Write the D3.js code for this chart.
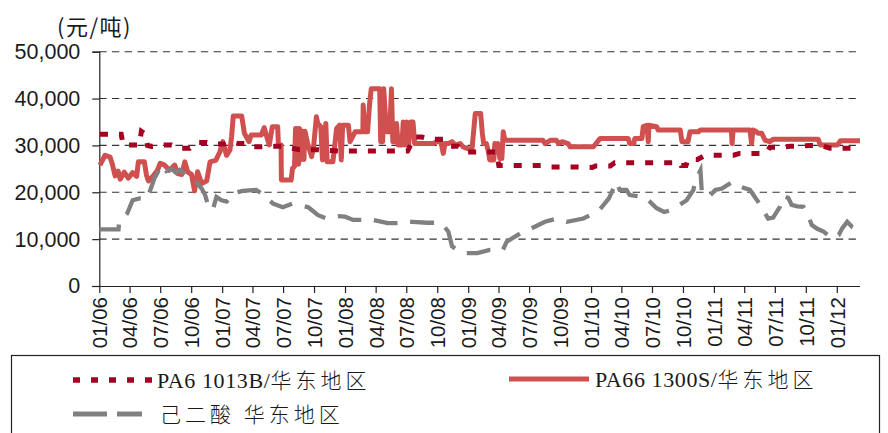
<!DOCTYPE html>
<html><head><meta charset="utf-8">
<script src="https://cdn.jsdelivr.net/npm/d3@7"></script>
<style>body{margin:0;background:#fff}svg{display:block}</style>
</head><body>
<svg id="c" width="888" height="433"></svg>
<script>
// ---------- data ----------
const tickLabels = ["01/06","04/06","07/06","10/06","01/07","04/07","07/07","10/07","01/08","04/08","07/08","10/08","01/09","04/09","07/09","10/09","01/10","04/10","07/10","10/10","01/11","04/11","07/11","10/11","01/12"];
const yTicks = [0,10000,20000,30000,40000,50000];
const unitLabel = "(元/吨)";
const seriesNames = ["PA6 1013B/华东地区","PA66 1300S/华东地区","己二酸 华东地区"];

const pa6Dates = ["2006-01-03","2006-03-07","2006-03-13","2006-04-30","2006-05-06","2006-05-18","2006-05-24","2006-06-05","2006-07-14","2006-08-04","2006-08-28","2006-09-27","2006-10-17","2006-11-17","2006-12-10","2007-01-09","2007-01-24","2007-02-17","2007-03-08","2007-03-22","2007-04-30","2007-06-06","2007-06-29","2007-08-19","2007-10-12","2007-10-26","2007-12-16","2008-01-01","2008-02-29","2008-05-04","2008-07-05","2008-07-26","2008-08-16","2008-09-10","2008-10-18","2008-11-09","2008-12-02","2008-12-23","2009-01-16","2009-03-26","2009-04-02","2009-04-28","2009-06-04","2009-08-11","2009-09-02","2009-11-15","2010-01-05","2010-01-14","2010-02-27","2010-03-12","2010-07-30","2010-09-23","2010-09-26","2010-10-10","2010-10-16","2010-11-13","2010-12-06","2011-02-28","2011-03-18","2011-06-05","2011-06-16","2011-07-07","2011-08-15","2011-09-06","2011-10-14","2011-11-13","2011-12-12","2012-01-26","2012-03-10"];
const pa6Values = [32400,32400,30100,30100,33000,32400,30000,29800,30100,30100,29400,29400,30600,30600,30300,30300,30800,30400,30400,29700,29700,29800,29800,29100,29100,29000,28800,28800,28800,28800,28800,31800,31800,31300,31300,29800,29800,28600,28600,28600,25700,25700,25700,25700,25400,25400,25300,25600,25600,26300,26300,26300,25700,25700,27000,27000,27900,27900,28300,28300,29600,29600,29800,29800,30000,30000,29400,29400,29400];

const pa66Dates = ["2006-01-03","2006-01-18","2006-02-02","2006-02-08","2006-02-17","2006-02-26","2006-03-04","2006-03-16","2006-03-28","2006-04-10","2006-04-22","2006-04-27","2006-05-15","2006-05-21","2006-05-27","2006-06-08","2006-06-23","2006-07-01","2006-07-14","2006-07-28","2006-08-13","2006-08-22","2006-09-03","2006-09-12","2006-09-21","2006-10-02","2006-10-11","2006-10-20","2006-11-01","2006-11-16","2006-11-26","2006-12-13","2006-12-25","2007-01-03","2007-01-14","2007-01-24","2007-01-29","2007-02-03","2007-02-28","2007-03-08","2007-03-22","2007-03-28","2007-04-27","2007-05-06","2007-05-15","2007-05-21","2007-05-30","2007-06-15","2007-06-17","2007-06-25","2007-06-26","2007-07-25","2007-07-29","2007-08-04","2007-08-07","2007-08-10","2007-08-13","2007-08-16","2007-08-19","2007-08-23","2007-08-28","2007-09-01","2007-09-04","2007-09-12","2007-09-24","2007-09-30","2007-10-08","2007-10-12","2007-10-21","2007-10-26","2007-11-05","2007-11-09","2007-11-26","2007-12-07","2007-12-16","2007-12-21","2007-12-25","2008-01-11","2008-01-16","2008-01-31","2008-02-23","2008-02-24","2008-02-28","2008-03-08","2008-03-14","2008-03-19","2008-04-13","2008-04-16","2008-04-22","2008-04-25","2008-05-03","2008-05-13","2008-05-18","2008-05-22","2008-05-31","2008-06-02","2008-06-07","2008-06-18","2008-06-22","2008-06-27","2008-07-02","2008-07-08","2008-07-14","2008-07-21","2008-07-26","2008-09-19","2008-09-30","2008-10-12","2008-10-19","2008-10-24","2008-11-03","2008-11-14","2008-11-23","2008-12-08","2008-12-17","2009-01-12","2009-01-22","2009-02-07","2009-02-12","2009-02-16","2009-02-24","2009-03-01","2009-03-06","2009-03-18","2009-03-21","2009-03-27","2009-03-30","2009-04-05","2009-04-11","2009-04-15","2009-04-20","2009-08-11","2009-08-17","2009-09-02","2009-09-20","2009-09-26","2009-10-07","2009-10-25","2009-10-31","2010-01-08","2010-01-20","2010-01-28","2010-04-21","2010-04-26","2010-05-08","2010-05-11","2010-06-01","2010-06-05","2010-06-16","2010-06-20","2010-06-22","2010-07-15","2010-07-19","2010-09-23","2010-09-28","2010-10-16","2010-10-22","2010-11-16","2010-11-22","2011-02-22","2011-02-24","2011-02-27","2011-04-18","2011-04-23","2011-04-27","2011-05-06","2011-05-12","2011-05-23","2011-06-02","2011-06-16","2011-06-26","2011-11-07","2011-11-13","2012-01-03","2012-01-12","2012-03-10"];
const pa66Values = [25800,27900,27500,26200,23500,24500,22800,24300,23000,24200,23400,26500,26500,23700,22400,23300,24700,26200,25800,24700,25800,24000,23800,26500,24300,23800,20300,24400,21900,22400,26500,26800,28600,30800,27900,29000,31800,36300,36300,32600,30800,32200,32200,33800,31500,30100,34000,34000,30100,30100,22600,22600,25100,25500,33600,26000,33600,26000,33600,27000,33000,27000,33000,30400,27600,30000,36100,34700,34000,26900,34700,26500,26500,33600,34300,26900,34300,34300,30800,32900,32900,38600,32900,32900,38900,42100,42100,30800,30800,42100,32900,32900,42100,30800,30800,34700,30100,30100,35000,30100,35000,30100,35000,35000,30400,30400,30800,30800,28300,30400,30400,30800,30100,30400,29700,29000,36800,36800,32600,30400,30400,29000,26900,26900,30400,29000,30400,27200,27200,32900,31100,31100,30400,31100,31100,30400,30800,30400,29700,29700,30800,31500,31500,30400,30400,31500,31500,34000,34300,30800,34300,34000,33300,33300,30800,30800,32900,32900,33300,33300,30400,33300,33300,30400,33300,33000,32600,32600,31100,30800,31300,31300,30100,30100,31000,31000];

const adipicDates = ["2006-01-01","2006-02-27","2006-03-01","2006-03-25","2006-04-10","2006-04-30","2006-05-21","2006-05-30","2006-06-14","2006-07-05","2006-07-19","2006-08-04","2006-08-16","2006-08-28","2006-09-17","2006-10-11","2006-11-01","2006-11-11","2006-11-20","2006-12-04","2006-12-15","2006-12-30","2007-01-14","2007-02-03","2007-03-03","2007-04-12","2007-04-27","2007-05-06","2007-06-01","2007-06-30","2007-07-30","2007-08-19","2007-09-14","2007-10-13","2007-11-07","2007-12-11","2008-01-01","2008-01-25","2008-02-21","2008-03-05","2008-03-23","2008-05-07","2008-06-12","2008-06-18","2008-07-20","2008-09-01","2008-10-09","2008-10-18","2008-11-03","2008-11-14","2008-11-28","2008-12-17","2009-01-28","2009-03-06","2009-04-14","2009-04-25","2009-05-19","2009-06-14","2009-07-08","2009-08-17","2009-09-21","2009-10-21","2009-12-09","2009-12-29","2010-01-28","2010-02-23","2010-03-17","2010-03-27","2010-04-16","2010-04-26","2010-06-10","2010-07-15","2010-08-06","2010-08-28","2010-10-12","2010-11-01","2010-11-07","2010-11-22","2010-11-26","2010-12-16","2011-01-05","2011-01-25","2011-02-24","2011-03-19","2011-04-18","2011-05-12","2011-05-27","2011-06-11","2011-06-26","2011-07-16","2011-07-26","2011-08-10","2011-08-20","2011-09-06","2011-09-24","2011-10-09","2011-10-19","2011-11-04","2011-11-23","2011-12-17","2012-01-07","2012-01-17","2012-02-01","2012-02-16","2012-03-01","2012-03-10"];
const adipicValues = [12100,12100,13700,15500,18300,18700,18500,20000,23000,25800,24500,25000,24200,24800,23700,22600,20800,19500,17300,16200,19000,18300,18000,19800,20300,20500,19800,19300,17600,16800,17600,17300,16800,15100,14400,14900,14800,14100,14100,14400,14100,13400,13400,13700,13700,13500,13500,13000,11600,8500,7700,7000,7000,7700,7700,9400,10500,11600,12300,13700,14400,13700,14400,15100,16400,18700,22200,20500,20500,19400,19000,16600,15800,16200,18300,20500,22600,24700,20100,19000,20500,20800,22200,21200,20500,18000,16200,14400,14600,16900,19200,18800,17300,17000,16900,14800,13000,12200,11600,10200,10900,12300,13700,12600,12100,12100];

// ---------- chart ----------
(function () {
const parse = d3.timeParse("%Y-%m-%d");
const parseTick = d3.timeParse("%m/%y");
const svg = d3.select("#c");
const pl = 99.3, pr = 860, pt = 51.7, pb = 286;
const x = d3.scaleTime().domain([parse("2006-01-01"), parse("2012-03-10")]).range([pl, pr]);
const y = d3.scaleLinear().domain([0, 50000]).range([pb, pt]);

const latin = "'Liberation Sans', Arial, sans-serif";
const cjk = "'Noto Sans CJK SC', sans-serif";
const serif = "'Liberation Serif', 'Times New Roman', serif";

// gridlines
svg.append("g").selectAll("line").data(yTicks.filter(d => d > 0)).join("line")
  .attr("x1", pl).attr("x2", pr)
  .attr("y1", d => y(d)).attr("y2", d => y(d))
  .attr("stroke", "#333").attr("stroke-width", 1.1).attr("stroke-dasharray", "7.3,5.4");

// y axis
const gy = svg.append("g").attr("transform", `translate(${pl},0)`)
  .call(d3.axisLeft(y).tickValues(yTicks).tickSize(7).tickPadding(12).tickFormat(d3.format(",")));
gy.select(".domain").attr("stroke", "#222").attr("stroke-width", 1.2);
gy.selectAll(".tick line").attr("stroke", "#222").attr("stroke-width", 1.2);
gy.selectAll("text").attr("font-family", latin).attr("font-size", 21.5).attr("fill", "#1a1a1a");

// x axis
const gx = svg.append("g").attr("transform", `translate(0,${pb})`)
  .call(d3.axisBottom(x).tickValues(tickLabels.map(parseTick)).tickSize(7).tickFormat(d3.timeFormat("%m/%y")));
gx.select(".domain").attr("stroke", "#222").attr("stroke-width", 1.2).attr("d", `M${pl},0.5H${pr}`);
gx.selectAll(".tick line").attr("stroke", "#222").attr("stroke-width", 1.2);
gx.selectAll("text")
  .attr("font-family", latin).attr("font-size", 20.5).attr("fill", "#1a1a1a")
  .attr("text-anchor", "end")
  .attr("transform", "rotate(-90)")
  .attr("x", -11).attr("y", 0).attr("dy", "0.36em");

// unit
svg.append("text").attr("x", 57).attr("y", 35).attr("font-family", cjk).attr("font-size", 22)
  .attr("letter-spacing", 1.5).attr("fill", "#1a1a1a").text(unitLabel);

// series
const mk = (ds, vs) => ds.map((d, i) => ({date: parse(d), v: vs[i]}));
const line = d3.line().x(d => x(d.date)).y(d => y(d.v));
const colPA66 = "#D0504F", colPA6 = "#A50021", colAd = "#808080";

svg.append("path").datum(mk(pa66Dates, pa66Values)).attr("d", line)
  .attr("fill", "none").attr("stroke", colPA66).attr("stroke-width", 5).attr("stroke-linejoin", "round");
svg.append("path").datum(mk(pa6Dates, pa6Values)).attr("d", line)
  .attr("fill", "none").attr("stroke", colPA6).attr("stroke-width", 5).attr("stroke-dasharray", "8,11");
svg.append("path").datum(mk(adipicDates, adipicValues)).attr("d", line)
  .attr("fill", "none").attr("stroke", colAd).attr("stroke-width", 4.3).attr("stroke-dasharray", "24,13");

// legend
svg.append("rect").attr("x", 11.5).attr("y", 355.5).attr("width", 868).attr("height", 120)
  .attr("fill", "none").attr("stroke", "#222").attr("stroke-width", 1.2);

const leg = [
  {name: seriesNames[0], x1: 73, x2: 152, y: 380, col: colPA6, w: 5.5, dash: "7,11", tx: 157},
  {name: seriesNames[1], x1: 509, x2: 589, y: 379, col: colPA66, w: 5, dash: null, tx: 595},
  {name: seriesNames[2], x1: 73, x2: 142, y: 414, col: colAd, w: 5, dash: "34,10", tx: 160}
];
leg.forEach(l => {
  svg.append("line").attr("x1", l.x1).attr("x2", l.x2).attr("y1", l.y).attr("y2", l.y)
    .attr("stroke", l.col).attr("stroke-width", l.w).attr("stroke-dasharray", l.dash);
  const t = svg.append("text").attr("x", l.tx).attr("y", l.y + 8).attr("fill", "#1a1a1a").attr("font-size", 21);
  const m = l.name.match(/^([A-Za-z0-9 \/]*)(.*)$/);
  if (m[1]) t.append("tspan").attr("font-family", serif).attr("font-size", 22).attr("letter-spacing", 0.6).text(m[1]);
  t.append("tspan").attr("font-family", cjk).attr("font-weight", 300).attr("letter-spacing", 4).text(m[2]);
});
})();
</script>
</body></html>
